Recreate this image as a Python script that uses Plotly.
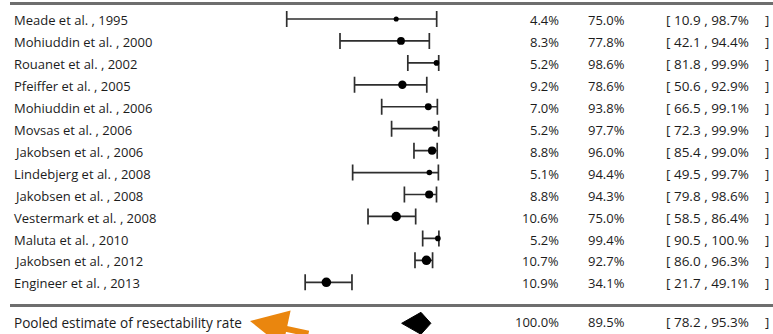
import plotly.graph_objects as go

# Study-level results of the meta-analysis (resectability rate, %)
studies = [
    "Meade et al. , 1995", "Mohiuddin et al. , 2000", "Rouanet et al. , 2002",
    "Pfeiffer et al. , 2005", "Mohiuddin et al. , 2006", "Movsas et al. , 2006",
    "Jakobsen et al. , 2006", "Lindebjerg et al. , 2008", "Jakobsen et al. , 2008",
    "Vestermark et al. , 2008", "Maluta et al. , 2010", "Jakobsen et al. , 2012",
    "Engineer et al. , 2013",
]
weights = [4.4, 8.3, 5.2, 9.2, 7.0, 5.2, 8.8, 5.1, 8.8, 10.6, 5.2, 10.7, 10.9]
rates = [75.0, 77.8, 98.6, 78.6, 93.8, 97.7, 96.0, 94.4, 94.3, 75.0, 99.4, 92.7, 34.1]
lower = [10.9, 42.1, 81.8, 50.6, 66.5, 72.3, 85.4, 49.5, 79.8, 58.5, 90.5, 86.0, 21.7]
upper = [98.7, 94.4, 99.9, 92.9, 99.1, 99.9, 99.0, 99.7, 98.6, 86.4, 100.0, 96.3, 49.1]

# Pooled estimate
pooled_label = "Pooled estimate of resectability rate"
pooled_weight = 100.0
pooled_rate = 89.5
pooled_lower = 78.2
pooled_upper = 95.3

W, H = 773, 334
ROW0, ROW_STEP = 19.0, 21.94          # pixel centre of first row, row spacing
rows = list(range(len(studies)))
pooled_row = (323.3 - ROW0) / ROW_STEP

TEXT = "#1c1c1c"
FONT = "Open Sans"


def short(v):
    return f"{v:.1f}"[:4]


fig = go.Figure()

# confidence intervals with caps, point estimate sized by weight
fig.add_trace(go.Scatter(
    x=rates, y=rows, mode="markers",
    marker=dict(size=[2.0 + 0.7 * w for w in weights], color="#000000",
                opacity=1, line=dict(width=0)),
    error_x=dict(type="data", symmetric=False,
                 array=[u - r for u, r in zip(upper, rates)],
                 arrayminus=[r - l for r, l in zip(rates, lower)],
                 color="#2e2e2e", thickness=1.7, width=8),
    cliponaxis=False, hoverinfo="skip", showlegend=False,
))

# pooled diamond
fig.add_trace(go.Scatter(
    x=[pooled_lower, pooled_rate, pooled_upper, pooled_rate, pooled_lower],
    y=[pooled_row, pooled_row - 0.5, pooled_row, pooled_row + 0.5, pooled_row],
    mode="lines", fill="toself", fillcolor="#000000",
    line=dict(color="#000000", width=1),
    cliponaxis=False, hoverinfo="skip", showlegend=False,
))

ann = []


def px(x):
    return x / W


def col_text(text, x, y, anchor, size=13):
    ann.append(dict(text=text, x=px(x), xref="paper", y=y, yref="y",
                    xanchor=anchor, yanchor="middle", showarrow=False,
                    font=dict(family=FONT, size=size, color=TEXT)))


def row_cells(label, w, r, lo, hi, yy, label_size=13):
    col_text(label, 12, yy, "left", size=label_size)
    col_text(f"{w:.1f}%", 561, yy, "right")
    col_text(f"{r:.1f}%", 586, yy, "left")
    col_text(f"[ {short(lo)} , {short(hi)}%", 664, yy, "left", size=13.5)
    col_text("]", 771, yy, "right")


for i, name in enumerate(studies):
    row_cells(name, weights[i], rates[i], lower[i], upper[i], rows[i] + 0.05)

row_cells(pooled_label, pooled_weight, pooled_rate, pooled_lower, pooled_upper,
          pooled_row - 0.05, label_size=13.6)

# orange pointer towards the pooled-estimate label
ann.append(dict(text="", x=px(250), xref="paper", y=1 - 321 / H, yref="paper",
                ax=60, ay=24, showarrow=True, arrowhead=2, arrowsize=1.25,
                arrowwidth=6, arrowcolor="#EA860E"))

shapes = [
    dict(type="line", xref="paper", yref="paper", x0=px(10), x1=1,
         y0=1 - 3.5 / H, y1=1 - 3.5 / H, line=dict(color="#6e6e6e", width=3)),
    dict(type="line", xref="paper", yref="paper", x0=px(10), x1=1,
         y0=1 - 305.5 / H, y1=1 - 305.5 / H, line=dict(color="#6e6e6e", width=3)),
]

x0_px, scale = 268.1, 1.708
xr = [-3, 103]
fig.update_layout(
    width=W, height=H,
    margin=dict(l=0, r=0, t=0, b=0),
    paper_bgcolor="white", plot_bgcolor="white",
    xaxis=dict(range=xr,
               domain=[(x0_px + scale * xr[0]) / W, (x0_px + scale * xr[1]) / W],
               visible=False, fixedrange=True),
    yaxis=dict(range=[(H - ROW0) / ROW_STEP, -ROW0 / ROW_STEP],
               domain=[0, 1], visible=False, fixedrange=True),
    annotations=ann, shapes=shapes,
)

fig.write_html("out.html")
